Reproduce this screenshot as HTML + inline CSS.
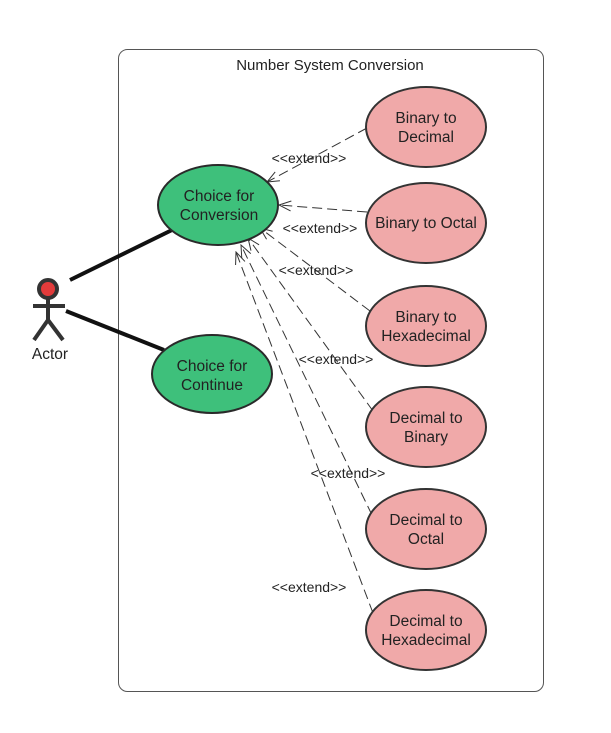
<!DOCTYPE html>
<html><head><meta charset="utf-8"><style>
html,body{margin:0;padding:0;background:#fff;}
svg{display:block;font-family:"Liberation Sans",Arial,sans-serif;}
</style></head><body>
<svg width="611" height="733" viewBox="0 0 611 733" xmlns="http://www.w3.org/2000/svg">
<defs>
<marker id="a" markerWidth="14" markerHeight="12" refX="13" refY="6" orient="auto" markerUnits="userSpaceOnUse">
<path d="M1,1 L13,6 L1,11" fill="none" stroke="#333" stroke-width="1"/>
</marker>
</defs>
<rect x="118.5" y="49.5" width="425" height="642" rx="9" fill="#fff" stroke="#555" stroke-width="1"/>
<text x="330" y="70" font-size="15" text-anchor="middle" fill="#222" font-family="Liberation Sans, sans-serif">Number System Conversion</text>

<g stroke="#333" stroke-width="1" stroke-dasharray="10,5" fill="none" marker-end="url(#a)">
<line x1="367" y1="128" x2="267" y2="182"/>
<line x1="367" y1="212" x2="279" y2="205"/>
<line x1="370" y1="311" x2="260" y2="228"/>
<line x1="373" y1="411" x2="248" y2="238"/>
<line x1="372" y1="515" x2="241" y2="245"/>
<line x1="373" y1="613" x2="236" y2="252"/>
</g>

<g stroke="#111" stroke-width="4">
<line x1="70" y1="280" x2="172" y2="230"/>
<line x1="66" y1="311" x2="164" y2="350"/>
</g>

<g fill="#3ec07b" stroke="#2a2a2a" stroke-width="2">
<ellipse cx="218" cy="205" rx="60" ry="40"/>
<ellipse cx="212" cy="374" rx="60" ry="39"/>
</g>
<g fill="#f0a9a9" stroke="#333" stroke-width="2">
<ellipse cx="426" cy="127" rx="60" ry="40"/>
<ellipse cx="426" cy="223" rx="60" ry="40"/>
<ellipse cx="426" cy="326" rx="60" ry="40"/>
<ellipse cx="426" cy="427" rx="60" ry="40"/>
<ellipse cx="426" cy="529" rx="60" ry="40"/>
<ellipse cx="426" cy="630" rx="60" ry="40"/>
</g>

<g font-size="15.5" fill="#222" text-anchor="middle" font-family="Liberation Sans, sans-serif">
<text x="219" y="201">Choice for</text><text x="219" y="220">Conversion</text>
<text x="212" y="371">Choice for</text><text x="212" y="390">Continue</text>
<text x="426" y="123">Binary to</text><text x="426" y="142">Decimal</text>
<text x="426" y="228">Binary to Octal</text>
<text x="426" y="322">Binary to</text><text x="426" y="341">Hexadecimal</text>
<text x="426" y="423">Decimal to</text><text x="426" y="442">Binary</text>
<text x="426" y="525">Decimal to</text><text x="426" y="544">Octal</text>
<text x="426" y="626">Decimal to</text><text x="426" y="645">Hexadecimal</text>
<text x="50" y="359">Actor</text>
</g>
<g font-size="14" fill="#222" text-anchor="middle" font-family="Liberation Sans, sans-serif">
<text x="309" y="163">&lt;&lt;extend&gt;&gt;</text>
<text x="320" y="233">&lt;&lt;extend&gt;&gt;</text>
<text x="316" y="275">&lt;&lt;extend&gt;&gt;</text>
<text x="336" y="364">&lt;&lt;extend&gt;&gt;</text>
<text x="348" y="478">&lt;&lt;extend&gt;&gt;</text>
<text x="309" y="592">&lt;&lt;extend&gt;&gt;</text>
</g>

<g>
<line x1="48" y1="298" x2="48" y2="322" stroke="#333" stroke-width="4"/>
<line x1="33" y1="306" x2="65" y2="306" stroke="#333" stroke-width="4"/>
<line x1="48" y1="320" x2="34" y2="340" stroke="#333" stroke-width="4"/>
<line x1="48" y1="320" x2="63" y2="340" stroke="#333" stroke-width="4"/>
<circle cx="48" cy="289" r="9" fill="#e23b3b" stroke="#333" stroke-width="4"/>
</g>
</svg>
</body></html>
